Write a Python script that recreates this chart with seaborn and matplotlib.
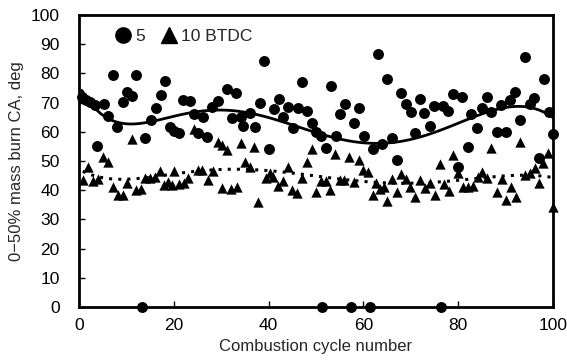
import numpy as np
import pandas as pd
import matplotlib
matplotlib.use("Agg")
import matplotlib.pyplot as plt
import seaborn as sns
from matplotlib.lines import Line2D

# Series "5" (circles)
cyc_5 = [0.6, 1.4, 2.3, 3.4, 3.9, 5.3, 6.2, 7.2, 8.1, 9.2, 10.1, 11.2, 12.0, 13.3, 14.0,
         15.2, 16.2, 17.2, 18.1, 19.2, 20.0, 21.2, 22.0, 23.4, 24.3, 25.2, 26.1, 27.1, 28.0,
         29.3, 31.2, 32.2, 33.1, 34.1, 34.7, 36.0, 37.1, 38.2, 39.1, 40.1, 41.1, 42.1, 43.1,
         44.2, 45.1, 46.1, 47.1, 48.1, 49.1, 50.1, 51.0, 51.3, 52.1, 53.1, 54.2, 55.1, 56.1,
         57.4, 58.1, 59.1, 60.1, 61.3, 62.1, 63.0, 64.0, 65.0, 66.0, 67.0, 68.0, 69.0, 70.0,
         70.9, 71.9, 72.8, 74.0, 75.0, 76.3, 76.9, 77.9, 78.9, 80.0, 80.9, 82.0, 82.8, 83.9,
         85.0, 86.0, 87.0, 88.2, 89.0, 90.1, 90.9, 92.0, 93.0, 94.0, 95.1, 96.0, 97.0, 98.0,
         99.1, 100.0]
ca_5 = [72.0, 71.0, 70.3, 69.3, 55.0, 69.6, 65.3, 79.3, 61.8, 70.2, 73.8, 72.3, 79.3, 0.0, 57.8,
        64.0, 68.0, 72.6, 77.4, 61.7, 60.3, 59.5, 70.9, 70.5, 66.0, 59.7, 65.0, 58.3, 68.6,
        70.7, 74.7, 64.8, 73.2, 65.0, 62.0, 66.3, 61.5, 70.0, 84.2, 54.0, 67.7, 71.2, 65.2,
        68.6, 61.2, 68.3, 77.0, 67.2, 63.1, 59.8, 58.6, 0.0, 54.3, 75.8, 58.6, 66.0, 69.4,
        0.0, 62.9, 68.0, 58.7, 0.0, 54.1, 86.6, 55.7, 78.2, 58.0, 50.3, 73.4, 69.4, 66.9,
        59.7, 71.2, 66.3, 62.0, 68.8, 0.0, 68.8, 67.1, 72.9, 48.0, 72.0, 54.9, 66.0, 61.2,
        68.0, 72.0, 66.7, 60.0, 69.3, 59.8, 71.0, 73.7, 64.2, 85.6, 69.4, 71.5, 50.9, 78.2,
        66.9, 59.3]

# Series "10 BTDC" (triangles)
cyc_10 = [0.8, 2.0, 3.0, 4.1, 5.1, 6.1, 7.2, 8.2, 9.2, 10.2, 11.2, 12.0, 13.0, 14.0, 15.0,
          16.0, 17.1, 18.0, 18.8, 19.6, 20.1, 21.0, 22.1, 23.0, 24.3, 25.2, 26.0, 27.2, 28.2,
          29.4, 30.1, 30.2, 31.2, 32.0, 33.3, 34.1, 35.0, 36.1, 37.0, 37.8, 39.5, 40.3, 41.0,
          42.0, 43.1, 44.1, 45.0, 46.0, 47.1, 48.1, 49.1, 50.1, 51.0, 52.2, 53.0, 54.0, 55.1,
          56.0, 56.9, 58.0, 59.0, 60.0, 61.0, 62.1, 62.6, 63.5, 64.3, 65.0, 66.0, 67.0, 68.0,
          68.9, 69.9, 70.9, 71.9, 73.0, 74.0, 75.2, 76.1, 77.0, 78.0, 79.0, 80.0, 81.0, 82.1,
          83.1, 84.1, 85.0, 86.0, 86.9, 88.1, 89.2, 90.0, 91.1, 92.1, 93.0, 94.1, 95.1, 96.2,
          97.1, 97.9, 99.0, 100.0]
ca_10 = [43.5, 48.0, 43.0, 43.8, 51.5, 49.6, 41.2, 38.5, 38.4, 42.5, 57.6, 40.2, 40.3, 44.1, 44.2,
         44.6, 46.5, 41.8, 42.8, 41.8, 46.5, 42.2, 42.4, 44.2, 61.0, 46.9, 46.8, 43.5, 46.5,
         56.6, 55.5, 40.6, 53.8, 40.5, 41.0, 56.2, 49.6, 47.8, 54.9, 35.9, 44.3, 45.8, 44.6,
         41.3, 43.2, 47.8, 40.2, 38.9, 44.2, 49.6, 54.0, 39.3, 43.2, 43.2, 40.1, 52.3, 43.6,
         43.5, 51.3, 42.9, 50.3, 46.8, 46.2, 38.4, 42.5, 40.3, 41.0, 36.2, 44.0, 39.4, 45.4,
         44.0, 41.0, 37.8, 43.6, 40.8, 42.6, 38.5, 49.0, 42.0, 39.8, 52.2, 45.8, 41.2, 41.2,
         41.6, 44.6, 46.3, 44.3, 54.3, 39.5, 44.0, 36.6, 41.2, 37.8, 56.6, 45.2, 45.8, 47.5,
         42.4, 49.2, 52.6, 34.4]

x_ticks = [0, 20, 40, 60, 80, 100]
y_ticks = [0, 10, 20, 30, 40, 50, 60, 70, 80, 90, 100]

df5 = pd.DataFrame({"cycle": cyc_5, "ca": ca_5})
df10 = pd.DataFrame({"cycle": cyc_10, "ca": ca_10})

sns.set_theme(style="white")
plt.rcParams["font.family"] = ["Liberation Sans", "DejaVu Sans"]

fig = plt.figure(figsize=(5.67, 3.6), dpi=100)
ax = fig.add_axes([0.1393, 0.1472, 0.836, 0.8111])

sns.scatterplot(data=df5, x="cycle", y="ca", marker="o", s=62, color="black",
                edgecolor="black", linewidth=0, ax=ax, clip_on=False, zorder=3)
sns.scatterplot(data=df10, x="cycle", y="ca", marker="^", s=55, color="black",
                edgecolor="black", linewidth=0, ax=ax, clip_on=False, zorder=3)

sns.regplot(data=df5, x="cycle", y="ca", order=6, scatter=False, ci=None, ax=ax,
            line_kws=dict(color="black", lw=2.0), truncate=True)
sns.regplot(data=df10, x="cycle", y="ca", order=6, scatter=False, ci=None, ax=ax,
            line_kws=dict(color="black", lw=2.2, linestyle=(0, (1, 2))), truncate=True)

ax.set_xlim(0, 100)
ax.set_ylim(0, 100)
ax.set_xticks(x_ticks)
ax.set_yticks(y_ticks)
ax.tick_params(direction="in", length=4, width=1, colors="black", labelsize=12.5,
               bottom=True, left=True)
ax.tick_params(axis="x", pad=8)
ax.tick_params(axis="y", pad=14)
for sp in ax.spines.values():
    sp.set_visible(True)
    sp.set_color("black")
    sp.set_linewidth(2.0)
ax.set_xlabel("Combustion cycle number", fontsize=12, labelpad=4)
ax.set_ylabel("0\u221250% mass burn CA, deg", fontsize=12, labelpad=5)

handles = [Line2D([], [], marker="o", color="black", linestyle="none", markersize=11),
           Line2D([], [], marker="^", color="black", linestyle="none", markersize=11)]
ax.legend(handles, ["5", "10 BTDC"], loc="upper left", bbox_to_anchor=(0.045, 0.995),
          ncol=2, frameon=False, fontsize=12.5, handletextpad=0.1, columnspacing=0.8,
          handlelength=1.2, borderpad=0.2)

fig.savefig("out.png", dpi=100)
